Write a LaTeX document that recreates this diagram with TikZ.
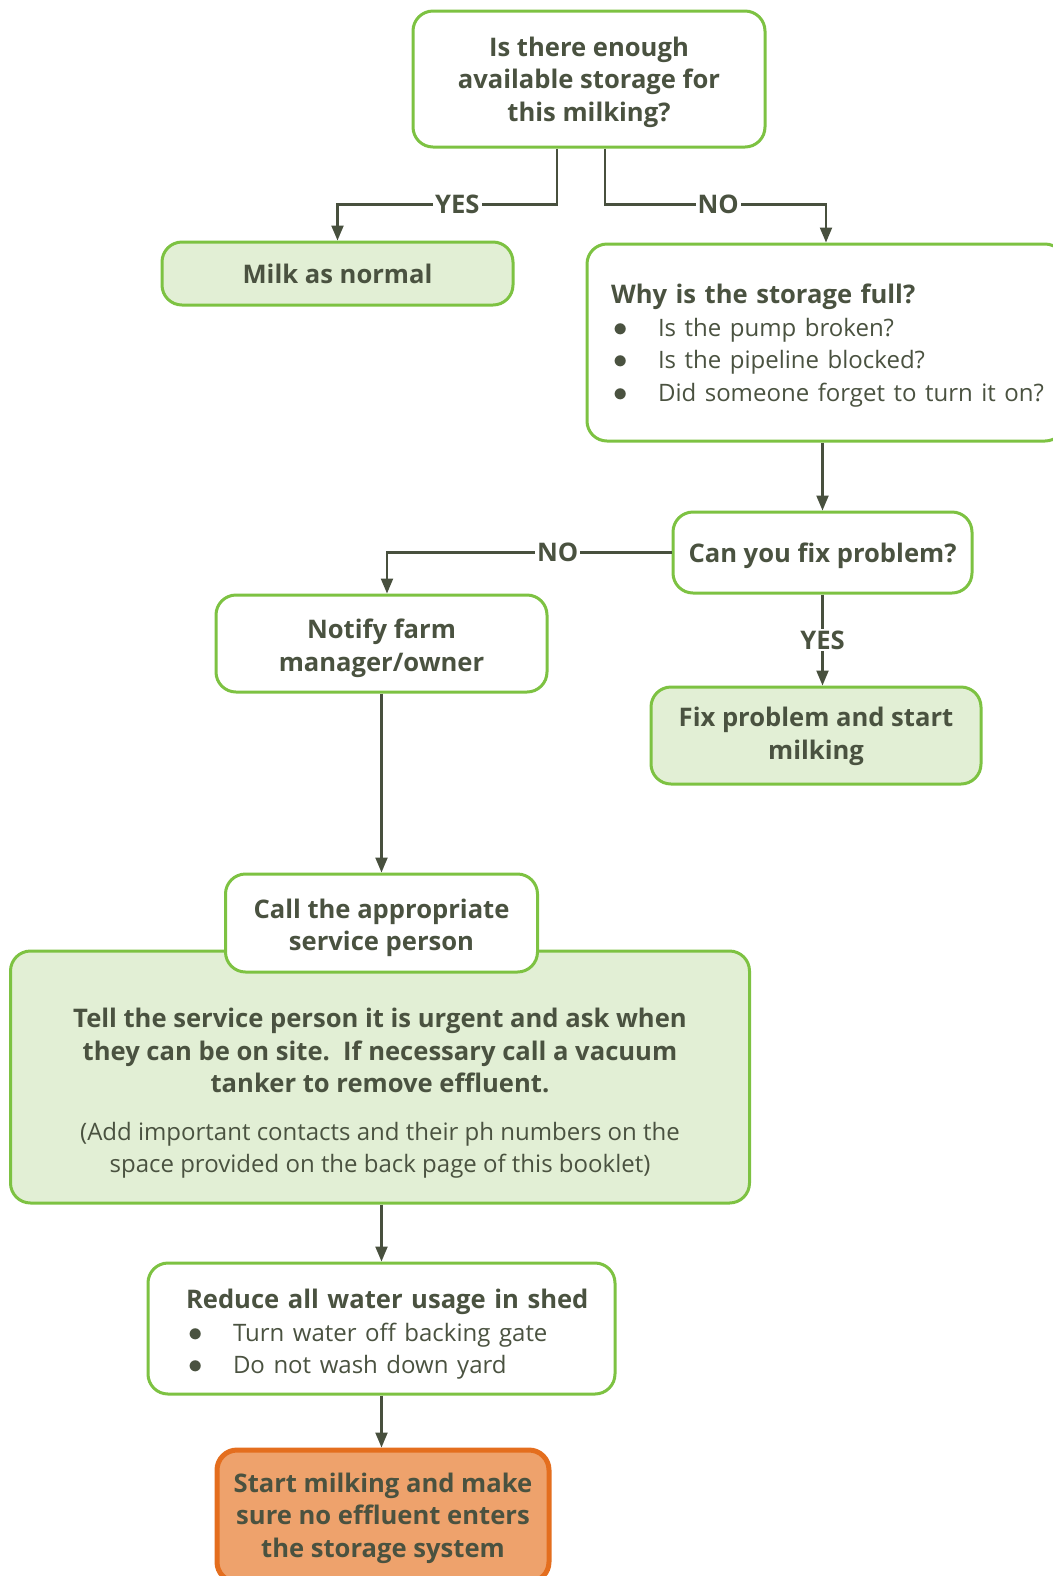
\documentclass[tikz,border=0pt]{standalone}
\usepackage{fontspec}
\setmainfont{Open Sans}
\usetikzlibrary{arrows.meta}
\definecolor{textc}{RGB}{74,82,64}
\definecolor{linec}{RGB}{72,80,62}
\definecolor{boxline}{RGB}{125,194,66}
\definecolor{boxfill}{RGB}{226,239,213}
\definecolor{endline}{RGB}{228,110,30}
\definecolor{endfill}{RGB}{238,162,108}
\newcommand{\boxfont}{\bfseries\fontsize{12.8pt}{16.25pt}\selectfont}
\newcommand{\lite}{\mdseries\fontsize{12pt}{16.25pt}\selectfont}
\newcommand{\lift}[1]{\rule{0pt}{#1}}
\newcommand{\itm}[1]{\mbox{\makebox[23.5pt][l]{\hspace{1pt}\scalebox{1.2}{$\bullet$}}#1}}
\tikzset{%
    box/.style={%
        draw=boxline, line width=1.5pt, rounded corners=10pt,
        fill=white, text=textc, inner sep=0pt, align=center, font=\boxfont
    },
    greenbox/.style={box, fill=boxfill},
    endbox/.style={box, draw=endline, fill=endfill, line width=2.5pt},
    flow/.style={draw=linec, line width=1.1pt, -{Triangle[width=6pt,length=7.5pt]}},
    lbl/.style={fill=white, text=textc, font=\boxfont, inner sep=1pt}
}

\begin{document}
\begin{tikzpicture}[x=0.5pt,y=-0.5pt]
    \useasboundingbox (0,0) rectangle (1053,1576);
    \node[box, minimum width=176pt, minimum height=68pt] (q1) at (589,79)
        {\lift{12.7pt}Is there enough\\available storage for\\this milking?};
    \node[greenbox, minimum width=175.5pt, minimum height=31.5pt] (milk) at (337.5,273.5)
        {Milk as normal};
    \node[box, minimum width=239pt, minimum height=98.5pt, align=left,
          text width=215pt, inner xsep=12pt] (why) at (826,342.5)
        {\lift{12.7pt}Why is the storage full?\\\lite
         \itm{Is the pump broken?}\\
         \itm{Is the pipeline blocked?}\\
         \itm{Did someone forget to turn it on?}};
    \node[box, minimum width=149.5pt, minimum height=40.5pt] (can) at (822.5,552.5)
        {\lift{12.7pt}Can you fix problem?};
    \node[greenbox, minimum width=165pt, minimum height=48.5pt] (fix) at (816,735.5)
        {\lift{10.7pt}Fix problem and start\\milking};
    \node[box, minimum width=165.5pt, minimum height=48.5pt] (notify) at (381.5,643.5)
        {\lift{14.7pt}Notify farm\\manager/owner};
    \node[greenbox, minimum width=369.5pt, minimum height=126pt] (tell) at (380,1077)
        {\lift{26pt}Tell the service person it is urgent and ask when\\
         they can be on site.\ \ If necessary call a vacuum\\
         tanker to remove effluent.\\[7.5pt]
         \lite(Add important contacts and their ph numbers on the\\
         \lite space provided on the back page of this booklet)};
    \node[box, minimum width=156pt, minimum height=49pt] (call) at (381.5,923)
        {\lift{14.7pt}Call the appropriate\\service person};
    \node[box, minimum width=233.5pt, minimum height=65.5pt, align=left,
          text width=195.5pt, inner xsep=19pt] (reduce) at (381.5,1328.5)
        {\lift{15.7pt}\mbox{Reduce all water usage in shed}\\\lite
         \itm{Turn water off backing gate}\\
         \itm{Do not wash down yard}};
    \node[endbox, minimum width=166pt, minimum height=66pt] (start) at (383,1516)
        {\lift{11.7pt}Start milking and make\\sure no effluent enters\\the storage system};

    \draw[flow] ([xshift=-16pt]q1.south) -- ++(0,56) -| node[lbl,pos=0.227]{YES} (milk.north);
    \draw[flow] ([xshift=8pt]q1.south) -- ++(0,56) -| node[lbl,pos=0.256]{NO} (why.north);
    \draw[flow] (why.south -| can.north) -- (can.north);
    \draw[flow] (can.west) -| node[lbl,pos=0.2]{NO} ([xshift=2.75pt]notify.north);
    \draw[flow] (can.south) -- node[lbl]{YES} (can.south |- fix.north);
    \draw[flow] (notify.south) -- (call.north);
    \draw[flow] (tell.south -| reduce.north) -- (reduce.north);
    \draw[flow] (reduce.south) -- (reduce.south |- start.north);
\end{tikzpicture}
\end{document}
